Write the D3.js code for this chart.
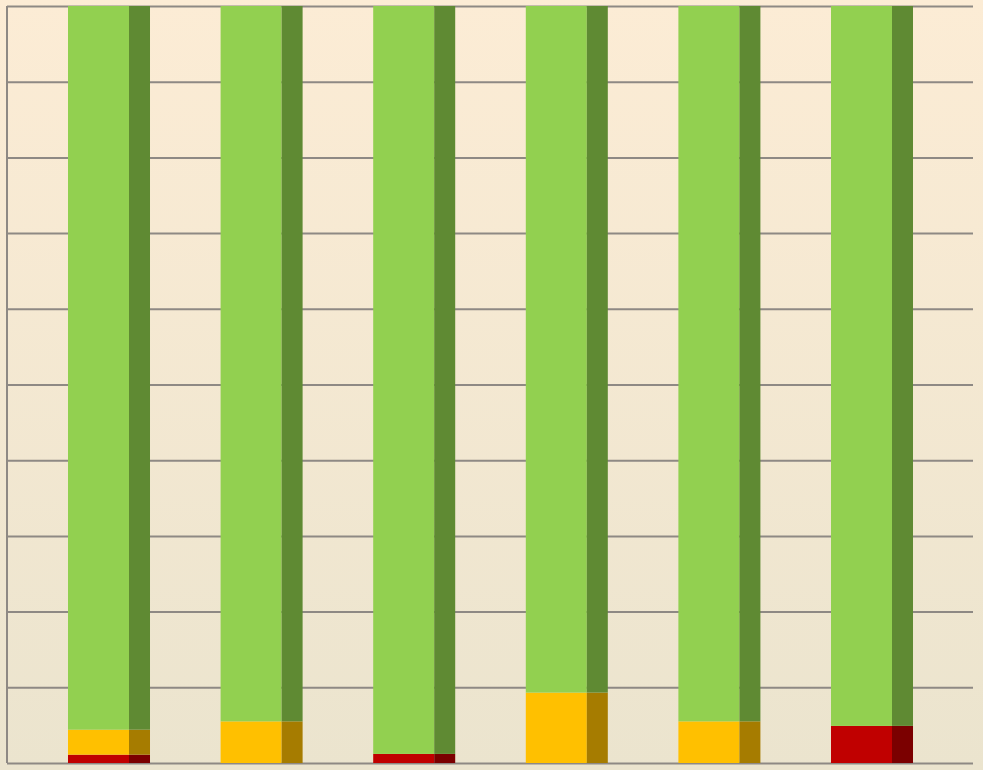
<!DOCTYPE html>
<html>
<head>
<meta charset="utf-8">
<script src="https://cdn.jsdelivr.net/npm/d3@7"></script>
<style>
  html, body { margin: 0; padding: 0; overflow: hidden; }
  svg { display: block; }
</style>
</head>
<body>
<svg></svg>
<script>
// six columns, each stacked to 100%
let categories = ['A', 'B', 'C', 'D', 'E', 'F']
let redValues = [1.1, 0, 1.2, 0, 0, 4.9]
let yellowValues = [3.3, 5.5, 0, 9.3, 5.5, 0]
let greenValues = categories.map((c, i) => 100 - redValues[i] - yellowValues[i])
let yTicks = [0, 10, 20, 30, 40, 50, 60, 70, 80, 90, 100]

let width = 983
let height = 770
let plotLeft = 7
let plotRight = 973
let plotTop = 6
let plotBottom = 763

let svg = d3.select('svg')
  .attr('width', width)
  .attr('height', height)

let defs = svg.append('defs')
let grad = defs.append('linearGradient')
  .attr('id', 'bg')
  .attr('x1', 0).attr('y1', 0).attr('x2', 0).attr('y2', 1)
grad.append('stop').attr('offset', '0%').attr('stop-color', '#fcecd5')
grad.append('stop').attr('offset', '100%').attr('stop-color', '#ebe4ce')

svg.append('rect')
  .attr('width', width)
  .attr('height', height)
  .attr('fill', 'url(#bg)')

let yScale = d3.scaleLinear()
  .domain([0, 100])
  .range([plotBottom, plotTop])

let xScale = d3.scaleBand()
  .domain(categories)
  .range([32.7, 948.3])
  .paddingInner(0.4626)
  .paddingOuter(0.2313)

// gridlines
let yAxis = d3.axisLeft(yScale)
  .tickValues(yTicks)
  .tickSize(-(plotRight - plotLeft))
  .tickFormat('')

let grid = svg.append('g')
  .attr('transform', 'translate(' + plotLeft + ', 0)')
  .call(yAxis)
grid.select('.domain').remove()
grid.selectAll('.tick line')
  .attr('stroke', '#8e8984')
  .attr('stroke-width', 2)

let series = [
  { name: 'red', values: redValues, front: '#c00000', side: '#7b0000' },
  { name: 'yellow', values: yellowValues, front: '#ffc000', side: '#a67c00' },
  { name: 'green', values: greenValues, front: '#92d050', side: '#5f8a33' }
]

let rows = categories.map((c, i) => {
  let row = { cat: c }
  series.forEach(s => { row[s.name] = s.values[i] })
  return row
})

let stack = d3.stack().keys(series.map(s => s.name))(rows)

let frontShare = 61 / 82

stack.forEach((layer, li) => {
  let s = series[li]
  let g = svg.append('g').attr('class', 'layer-' + s.name)
  let bars = g.selectAll('g')
    .data(layer.filter(d => d[1] - d[0] > 0))
    .enter()
    .append('g')
  bars.append('rect')
    .attr('x', d => xScale(d.data.cat))
    .attr('y', d => yScale(d[1]))
    .attr('width', xScale.bandwidth() * frontShare)
    .attr('height', d => yScale(d[0]) - yScale(d[1]))
    .attr('fill', s.front)
  bars.append('rect')
    .attr('x', d => xScale(d.data.cat) + xScale.bandwidth() * frontShare)
    .attr('y', d => yScale(d[1]))
    .attr('width', xScale.bandwidth() * (1 - frontShare))
    .attr('height', d => yScale(d[0]) - yScale(d[1]))
    .attr('fill', s.side)
})

// left axis line
svg.append('line')
  .attr('x1', plotLeft).attr('x2', plotLeft)
  .attr('y1', plotTop).attr('y2', plotBottom)
  .attr('stroke', '#8e8984')
  .attr('stroke-width', 2)
</script>
</body>
</html>
